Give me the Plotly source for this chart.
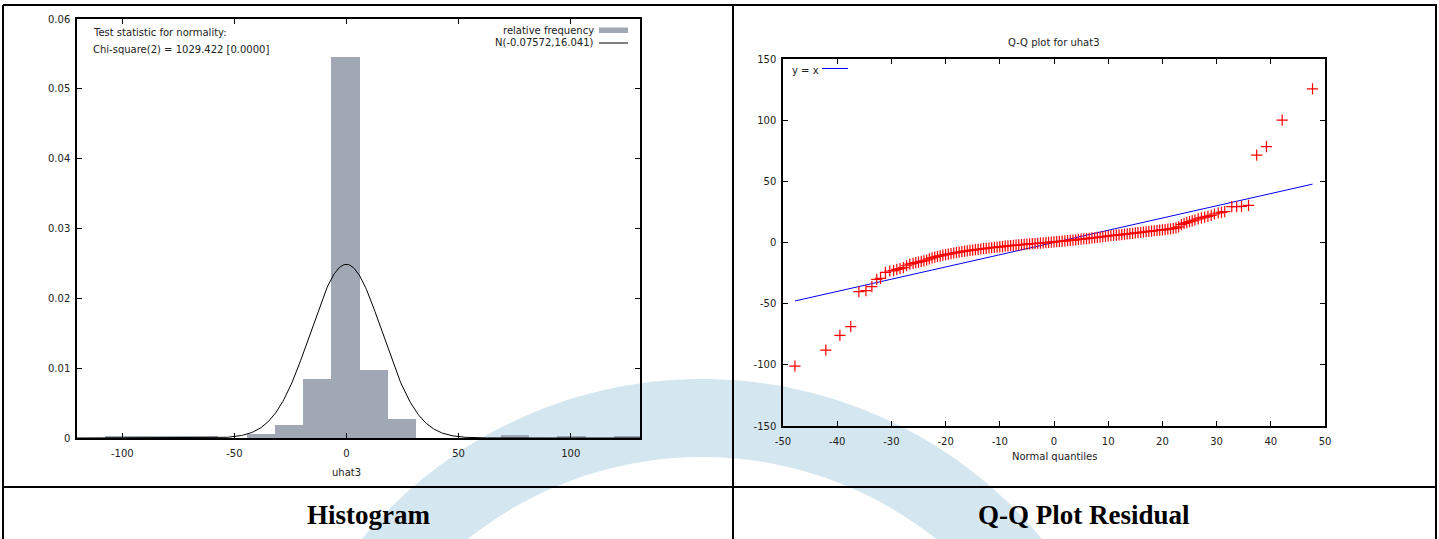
import numpy as np
import plotly.graph_objects as go

W, H = 1439, 539

# ---------------- data ----------------
# Histogram of uhat3 (relative frequency density), bin centers and heights
BIN_CENTERS = [-101.3, -88.7, -76.1, -63.5, -50.9, -38.3, -25.7, -13.1, -0.5, 12.1,
               24.7, 37.3, 49.9, 62.5, 75.1, 87.7, 100.3, 112.9, 125.5]
REL_FREQ = [0.0002, 0.0002, 0.0002, 0.0002, 0.0, 0.0006, 0.0019, 0.0084, 0.0546, 0.0097,
            0.0027, 0.0, 0.0, 0.0, 0.0004, 0.0, 0.0002, 0.0, 0.0002]
BIN_WIDTH = 12.6
MU, SIGMA = -0.07572, 16.041

HIST_XTICKS = [-100, -50, 0, 50, 100]
HIST_XLABELS = ["-100", "-50", "0", "50", "100"]
HIST_YTICKS = [0, 0.01, 0.02, 0.03, 0.04, 0.05, 0.06]
HIST_YLABELS = ["0", "0.01", "0.02", "0.03", "0.04", "0.05", "0.06"]

# Q-Q plot: normal quantiles (x) vs sorted residuals (y)
QQ_X = [-47.8, -42.1, -39.5, -37.5, -36.0, -34.7, -33.6, -32.7, -32.0, -31.1,
        -30.3, -29.6, -29.0, -28.4, -27.8, -27.2, -26.6,
        -26.0, -25.5, -25.0, -24.5, -24.0, -23.5, -23.0, -22.5, -22.0, -21.5,
        -21.0, -20.5, -20.0, -19.5, -19.0, -18.5, -18.0, -17.5, -17.0, -16.5,
        -16.0, -15.5, -15.0, -14.5, -14.0, -13.5, -13.0, -12.5, -12.0, -11.5,
        -11.0, -10.5, -10.0, -9.5, -9.0, -8.5, -8.0, -7.5, -7.0, -6.5,
        -6.0, -5.5, -5.0, -4.5, -4.0, -3.5, -3.0, -2.5, -2.0, -1.5,
        -1.0, -0.5, 0.0, 0.5, 1.0, 1.5, 2.0, 2.5, 3.0, 3.5,
        4.0, 4.5, 5.0, 5.5, 6.0, 6.5, 7.0, 7.5, 8.0, 8.5,
        9.0, 9.5, 10.0, 10.5, 11.0, 11.5, 12.0, 12.5, 13.0, 13.5,
        14.0, 14.5, 15.0, 15.5, 16.0, 16.5, 17.0, 17.5, 18.0, 18.5,
        19.0, 19.5, 20.0, 20.5, 21.0, 21.5, 22.0, 22.5, 23.0, 23.5,
        24.0, 24.5, 25.0, 25.5, 26.0,
        26.6, 27.2, 27.8, 28.4, 29.0, 29.6, 30.3, 30.9, 31.5, 32.8,
        33.7, 34.6, 35.9, 37.4, 39.2, 42.1, 47.7]
QQ_Y = [-101.0, -87.9, -75.9, -68.8, -40.2, -39.4, -36.1, -30.1, -29.3, -24.4,
        -23.3, -23.0, -22.0, -21.3, -20.6, -19.0, -17.6,
        -17.0, -16.4, -16.0, -15.5, -15.0, -14.3, -13.4, -12.6, -11.9, -11.4,
        -10.9, -10.4, -9.9, -9.5, -9.1, -8.6, -8.2, -7.8, -7.5, -7.1,
        -6.8, -6.5, -6.2, -5.9, -5.6, -5.3, -5.0, -4.8, -4.5, -4.3,
        -4.0, -3.8, -3.5, -3.3, -3.0, -2.8, -2.6, -2.4, -2.2, -2.0,
        -1.8, -1.6, -1.4, -1.2, -1.0, -0.8, -0.6, -0.5, -0.3, -0.1,
        0.1, 0.3, 0.5, 0.7, 0.9, 1.1, 1.3, 1.5, 1.8, 2.0,
        2.2, 2.5, 2.7, 3.0, 3.2, 3.4, 3.7, 3.9, 4.2, 4.5,
        4.7, 5.0, 5.3, 5.5, 5.8, 6.0, 6.3, 6.5, 6.8, 7.0,
        7.3, 7.5, 7.8, 8.0, 8.3, 8.6, 8.8, 9.1, 9.3, 9.6,
        9.8, 10.1, 10.4, 10.6, 10.9, 11.2, 11.5, 11.9, 12.8, 14.6,
        15.6, 16.3, 17.0, 17.7, 18.4,
        19.3, 20.2, 20.7, 21.4, 22.2, 23.3, 24.1, 24.6, 25.2, 29.3,
        29.3, 29.5, 30.4, 71.5, 78.3, 100.1, 125.5]

QQ_XTICKS = [-50, -40, -30, -20, -10, 0, 10, 20, 30, 40, 50]
QQ_XLABELS = ["-50", "-40", "-30", "-20", "-10", "0", "10", "20", "30", "40", "50"]
QQ_YTICKS = [-150, -100, -50, 0, 50, 100, 150]
QQ_YLABELS = ["-150", "-100", "-50", "0", "50", "100", "150"]

# ---------------- helpers ----------------
def PX(x):
    return x / W


def PY(y):
    return 1 - y / H


FONT = "DejaVu Sans"
TXT = "#222222"
BAR_COLOR = "#a0a7b5"

fig = go.Figure()

# Histogram bars
fig.add_trace(go.Bar(x=BIN_CENTERS, y=REL_FREQ, width=BIN_WIDTH,
                     marker=dict(color=BAR_COLOR, line=dict(width=0)),
                     xaxis="x", yaxis="y", showlegend=False, hoverinfo="skip"))

# Normal density curve N(MU, SIGMA)
xc = np.linspace(-120.2, 130.9, 600)
yc = np.exp(-0.5 * ((xc - MU) / SIGMA) ** 2) / (SIGMA * np.sqrt(2 * np.pi))
fig.add_trace(go.Scatter(x=xc, y=yc, mode="lines", line=dict(color="black", width=1),
                         xaxis="x", yaxis="y", showlegend=False, hoverinfo="skip"))

# Q-Q: y = x reference line over the quantile range
fig.add_trace(go.Scatter(x=[QQ_X[0], QQ_X[-1]], y=[QQ_X[0], QQ_X[-1]], mode="lines",
                         line=dict(color="#0000ff", width=1),
                         xaxis="x2", yaxis="y2", showlegend=False, hoverinfo="skip"))
# Q-Q points
fig.add_trace(go.Scatter(x=QQ_X, y=QQ_Y, mode="markers",
                         marker=dict(symbol="cross-thin", size=8,
                                     line=dict(color="#ff0000", width=1.2), color="#ff0000"),
                         xaxis="x2", yaxis="y2", showlegend=False, hoverinfo="skip"))

axis_common = dict(showline=True, linecolor="black", linewidth=1.5, mirror="allticks",
                   ticks="inside", ticklen=5, tickcolor="black", tickwidth=1,
                   showgrid=False, zeroline=False, automargin=False,
                   tickfont=dict(family=FONT, size=10, color=TXT))

# ---------------- watermark arc ----------------
cxo, cyo, ro = 702, 820, 441
cxi, cyi, ri = 702, 832, 375
to = np.radians(np.linspace(144.5, 35.5, 160))
ti = np.radians(np.linspace(47.0, 133.0, 160))
pts = [(cxo + ro * np.cos(t), cyo - ro * np.sin(t)) for t in to] + \
      [(cxi + ri * np.cos(t), cyi - ri * np.sin(t)) for t in ti]
path = "M " + " L ".join(f"{PX(x):.5f},{PY(y):.5f}" for x, y in pts) + " Z"

shapes = [dict(type="path", xref="paper", yref="paper", path=path,
               fillcolor="#d4e6f0", line=dict(width=0), layer="below")]

# table borders
bl = dict(color="black", width=2)
for (x0, y0, x1, y1) in [(3, 5, 1437, 5), (3, 487, 1437, 487),
                         (3, 5, 3, 539), (733, 5, 733, 539), (1436, 5, 1436, 539)]:
    shapes.append(dict(type="line", xref="paper", yref="paper",
                       x0=PX(x0), y0=PY(y0), x1=PX(x1), y1=PY(y1), line=bl, layer="above"))

# histogram legend samples
shapes.append(dict(type="rect", xref="paper", yref="paper",
                   x0=PX(599), x1=PX(628), y0=PY(33), y1=PY(27.5),
                   fillcolor=BAR_COLOR, line=dict(width=0)))
shapes.append(dict(type="line", xref="paper", yref="paper",
                   x0=PX(599), x1=PX(628), y0=PY(43), y1=PY(43),
                   line=dict(color="black", width=1)))
# Q-Q legend sample
shapes.append(dict(type="line", xref="paper", yref="paper",
                   x0=PX(822), x1=PX(848), y0=PY(68.5), y1=PY(68.5),
                   line=dict(color="#0000ff", width=1)))


def ann(text, x, y, xanchor="center", size=10, family=FONT, color=TXT, bold=False):
    return dict(text=f"<b>{text}</b>" if bold else text, x=PX(x), y=PY(y),
                xref="paper", yref="paper", xanchor=xanchor, yanchor="middle",
                showarrow=False, borderpad=0, borderwidth=0,
                font=dict(family=family, size=size, color=color))


annotations = [
    ann("Test statistic for normality:", 93, 32, "left"),
    ann("Chi-square(2) = 1029.422 [0.0000]", 93, 50, "left"),
    ann("relative frequency", 594, 30.5, "right"),
    ann("N(-0.07572,16.041)", 594, 43, "right"),
    ann("uhat3", 346, 472),
    ann("Q-Q plot for uhat3", 1054, 42),
    ann("y = x", 792, 70, "left"),
    ann("Normal quantiles", 1054, 456),
    ann("Histogram", 368, 515, size=27, family="Liberation Serif", color="black", bold=True),
    ann("Q-Q Plot Residual", 1084, 515, size=27, family="Liberation Serif", color="black", bold=True),
]

fig.update_layout(
    width=W, height=H, margin=dict(l=0, r=0, t=0, b=0, pad=0, autoexpand=False),
    paper_bgcolor="white", plot_bgcolor="rgba(0,0,0,0)",
    bargap=0, showlegend=False,
    xaxis=dict(domain=[PX(77), PX(640)], range=[-120.2, 130.9], tickvals=HIST_XTICKS,
               ticktext=HIST_XLABELS, ticklabelstandoff=5, anchor="y", **axis_common),
    yaxis=dict(domain=[PY(438), PY(19)], range=[0, 0.06], tickvals=HIST_YTICKS,
               ticktext=HIST_YLABELS, ticklabelstandoff=3, anchor="x", **axis_common),
    xaxis2=dict(domain=[PX(783), PX(1325)], range=[-50, 50], tickvals=QQ_XTICKS,
                ticktext=QQ_XLABELS, ticklabelstandoff=5, anchor="y2", **axis_common),
    yaxis2=dict(domain=[PY(426), PY(59)], range=[-150, 150], tickvals=QQ_YTICKS,
                ticktext=QQ_YLABELS, ticklabelstandoff=3, anchor="x2", **axis_common),
    shapes=shapes, annotations=annotations,
)

POST = ("document.body.style.margin='0';document.body.style.padding='0';"
        "document.body.style.overflow='hidden';")

fig.write_html("out.html", post_script=POST, config={"displayModeBar": False})
